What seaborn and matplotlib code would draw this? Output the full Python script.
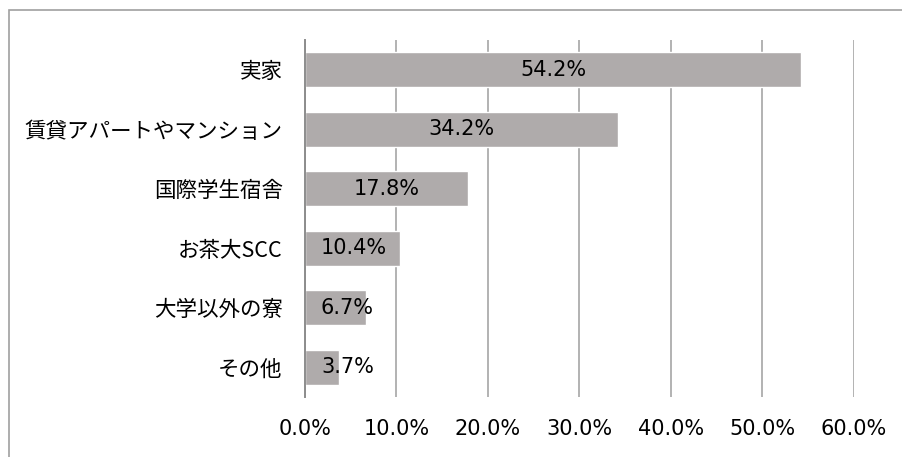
import matplotlib
matplotlib.use("Agg")
import matplotlib.pyplot as plt
import seaborn as sns
import pandas as pd

# data
categories = ["実家", "賃貸アパートやマンション", "国際学生宿舎", "お茶大SCC", "大学以外の寮", "その他"]
values = [54.2, 34.2, 17.8, 10.4, 6.7, 3.7]
x_ticks = [0, 10, 20, 30, 40, 50, 60]
x_tick_labels = ["0.0%", "10.0%", "20.0%", "30.0%", "40.0%", "50.0%", "60.0%"]

df = pd.DataFrame({"category": categories, "value": values})

sns.set_style("white")
plt.rcParams["font.family"] = ["Noto Sans CJK JP", "DejaVu Sans"]

fig = plt.figure(figsize=(9.03, 4.57), dpi=100)
ax = fig.add_axes([305 / 903, 1 - 397 / 457, (854 - 305) / 903, (397 - 40) / 457])

sns.barplot(data=df, x="value", y="category", orient="h", color="#AFABAB",
            width=0.58, saturation=1, ax=ax)

ax.set_xlim(0, 60)
ax.set_xticks(x_ticks)
ax.set_xticklabels(x_tick_labels, family=["DejaVu Sans"], fontsize=15, color="black")
ax.tick_params(axis="x", length=0, pad=16)
ax.tick_params(axis="y", length=0, pad=16, labelsize=15.5, labelcolor="black")
ax.set_xlabel("")
ax.set_ylabel("")

ax.set_axisbelow(True)
ax.grid(axis="x", color="#A6A6A6", linewidth=1.2)
ax.grid(axis="y", visible=False)
for side in ["top", "right", "bottom"]:
    ax.spines[side].set_visible(False)
ax.spines["left"].set_color("#8C8C8C")
ax.spines["left"].set_linewidth(1.4)

# labels inside the bars, centred but kept clear of the axis for short bars
texts = []
for bar, v in zip(ax.patches, values):
    t = ax.text(bar.get_x() + bar.get_width() / 2, bar.get_y() + bar.get_height() / 2,
                f"{v:.1f}%", ha="center", va="center", fontsize=15,
                family=["DejaVu Sans"], color="black")
    texts.append(t)

fig.canvas.draw()
renderer = fig.canvas.get_renderer()
left_px = ax.transData.transform((0, 0))[0] + 16
for t in texts:
    ext = t.get_window_extent(renderer)
    if ext.x0 < left_px:
        cx = left_px + ext.width / 2
        x_data = ax.transData.inverted().transform((cx, 0))[0]
        t.set_x(x_data)

# outer chart border, running off the right and bottom edges
fig.patches.append(plt.Rectangle((9 / 903, -0.2), 1.2, 1.2 - 10 / 457,
                                 transform=fig.transFigure, fill=False,
                                 edgecolor="#A0A0A0", linewidth=1.2))

fig.savefig("out.png", dpi=100)
